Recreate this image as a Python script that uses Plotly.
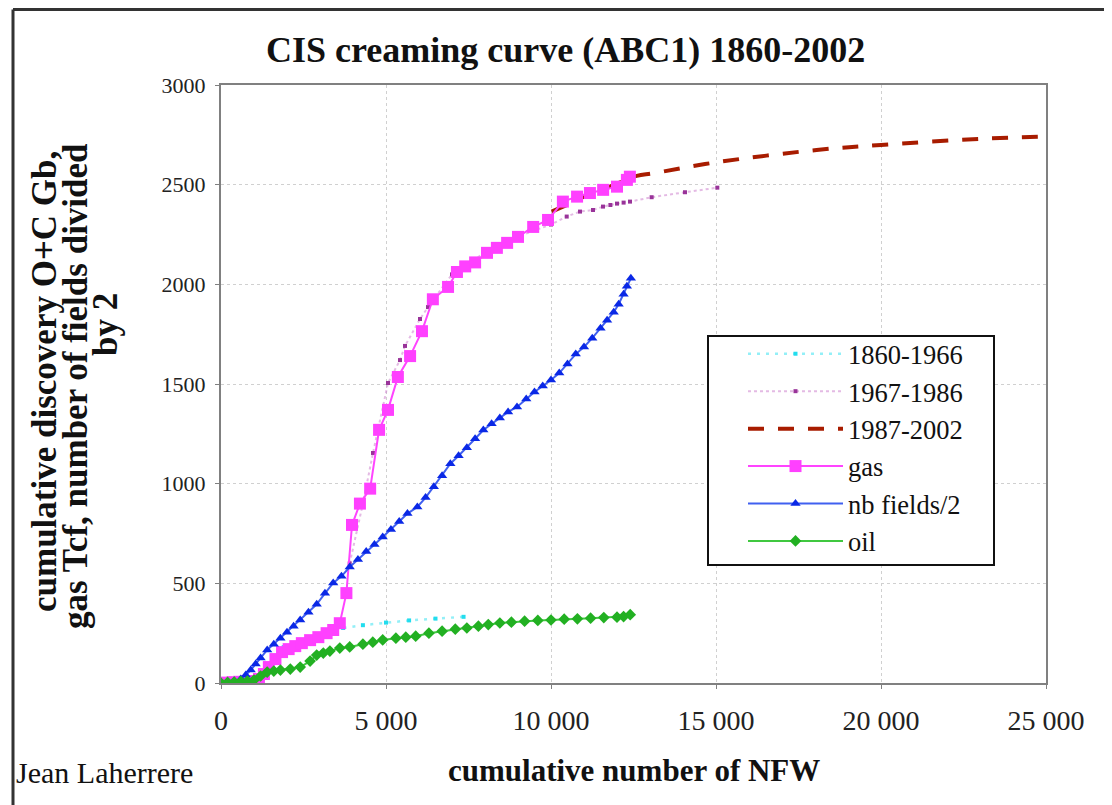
import plotly.graph_objects as go

# ---------------- data ----------------
cyan_x = [1900, 2400, 2900, 3300, 3700, 4300, 5000, 5700, 6500, 7350]
cyan_y = [180, 215, 245, 262, 276, 290, 303, 314, 323, 332]

purple_x = [3900, 4300, 4606, 5061, 5424, 5576, 6030, 6273, 7000, 8000, 9000, 10000,
            10476, 10879, 11273, 11576, 11800, 12000, 12200, 12394, 13050, 14060, 15040]
purple_y = [600, 900, 1154, 1505, 1620, 1691, 1826, 1886, 2050, 2160, 2240, 2300,
            2340, 2365, 2373, 2390, 2398, 2405, 2410, 2415, 2437, 2462, 2485]

red_x = [10020, 10500, 11000, 11500, 12000, 12600, 13090, 15000, 18050, 20000, 23000, 25000]
red_y = [2365, 2400, 2440, 2470, 2505, 2544, 2557, 2612, 2674, 2699, 2730, 2741]

gas_x = [0, 150, 350, 550, 750, 950, 1150, 1300, 1450, 1650, 1850, 2050, 2250, 2450, 2700,
         2950, 3200, 3400, 3600, 3800, 3970, 4210, 4520, 4790, 5060, 5360, 5730, 6090, 6420,
         6880, 7150, 7400, 7700, 8060, 8360, 8670, 9000, 9460, 9910, 10360, 10790, 11180,
         11580, 12000, 12300, 12390]
gas_y = [0, 2, 4, 6, 8, 10, 20, 45, 80, 120, 155, 170, 185, 200, 215,
         230, 250, 266, 300, 451, 793, 900, 975, 1270, 1370, 1535, 1640, 1765, 1925,
         1987, 2062, 2090, 2110, 2158, 2183, 2208, 2238, 2288, 2323, 2415, 2440, 2458,
         2474, 2490, 2524, 2540]

fields_x = [0, 200, 400, 600, 750, 900, 1050, 1200, 1400, 1600, 1800, 2000, 2200, 2400, 2650,
            2900, 3150, 3400, 3650, 3900, 4150, 4400, 4650, 4900, 5150, 5400, 5650, 5950, 6200,
            6450, 6700, 6950, 7200, 7450, 7700, 7950, 8200, 8450, 8700, 8970, 9250, 9500, 9750,
            10000, 10250, 10500, 10750, 11000, 11250, 11500, 11700, 11900, 12050, 12200, 12300, 12420]
fields_y = [0, 5, 10, 20, 40, 65, 95, 125, 166, 195, 225, 255, 285, 316, 355,
            395, 450, 502, 535, 582, 620, 660, 695, 733, 770, 810, 850, 883, 930,
            985, 1040, 1100, 1140, 1180, 1225, 1269, 1300, 1330, 1360, 1385, 1425, 1460, 1490,
            1520, 1555, 1600, 1650, 1686, 1730, 1780, 1820, 1860, 1900, 1950, 1990, 2030]

oil_x = [0, 200, 400, 600, 800, 1000, 1200, 1400, 1600, 1800, 2100, 2400, 2700, 2900, 3100,
         3300, 3600, 3900, 4300, 4600, 4900, 5300, 5600, 5900, 6300, 6700, 7100, 7450, 7800,
         8100, 8450, 8800, 9200, 9600, 10000, 10400, 10800, 11200, 11600, 12000, 12200, 12400]
oil_y = [0, 3, 5, 8, 10, 15, 35, 55, 60, 65, 70, 80, 110, 140, 150,
         160, 175, 181, 195, 205, 216, 225, 230, 235, 250, 260, 270, 276, 285,
         293, 301, 305, 310, 314, 316, 320, 322, 325, 328, 330, 333, 343]

title_text = "CIS creaming curve (ABC1) 1860-2002"
ytitle_lines = ["cumulative discovery O+C Gb,", "gas Tcf, number of fields divided", "by 2"]
xtitle_text = "cumulative number of NFW"
author_text = "Jean Laherrere"
x_ticks = [0, 5000, 10000, 15000, 20000, 25000]
y_ticks = [0, 500, 1000, 1500, 2000, 2500, 3000]

SERIF = "Liberation Serif"

# page -> paper helpers (plot area: x 221..1046, y 85..683 in page pixels)
def px(xp):
    return (xp - 221) / 825


def py(yp):
    return (683 - yp) / 598


fig = go.Figure()

fig.add_trace(go.Scatter(
    x=cyan_x, y=cyan_y, name="1860-1966", mode="lines+markers",
    line=dict(color="rgba(120,235,245,0.8)", width=2.5, dash="3px,6px"),
    marker=dict(symbol="square", size=4, color="#22DDEE"), legendgroup="a"))
fig.add_trace(go.Scatter(
    x=purple_x, y=purple_y, name="1967-1986", mode="lines+markers",
    line=dict(color="rgba(210,140,210,0.6)", width=2, dash="dot"),
    marker=dict(symbol="square", size=4, color="#993399"), legendgroup="b"))
fig.add_trace(go.Scatter(
    x=red_x, y=red_y, name="1987-2002", mode="lines", line_shape="spline",
    line=dict(color="#A81C00", width=4, dash="16px,14px"), legendgroup="c"))
fig.add_trace(go.Scatter(
    x=gas_x, y=gas_y, name="gas", mode="lines+markers",
    line=dict(color="#FF44FF", width=2),
    marker=dict(symbol="square", size=12, color="#FF40FF"), legendgroup="d"))
fig.add_trace(go.Scatter(
    x=fields_x, y=fields_y, name="nb fields/2", mode="lines+markers",
    line=dict(color="#4060F0", width=2),
    marker=dict(symbol="triangle-up", size=9, color="#0A28E6"), legendgroup="e"))
fig.add_trace(go.Scatter(
    x=oil_x, y=oil_y, name="oil", mode="lines+markers",
    line=dict(color="#40C840", width=2),
    marker=dict(symbol="diamond", size=9, color="#22B022"), legendgroup="f"))

axis_common = dict(
    showgrid=True, gridcolor="#D0D0D0", griddash="dot", gridwidth=1,
    showline=True, linecolor="#808080", linewidth=2, mirror=True,
    ticks="outside", ticklen=4, tickcolor="#808080",
    zeroline=False,
)

fig.update_xaxes(range=[0, 25000], tickvals=x_ticks, tickformat=",d",
                 tickfont=dict(family=SERIF, size=28, color="#222222"),
                 ticklabelstandoff=7, **axis_common)
fig.update_yaxes(range=[0, 3000], tickvals=y_ticks, tickformat="d",
                 tickfont=dict(family=SERIF, size=22, color="#222222"),
                 ticklabelstandoff=5, **axis_common)

annotations = [
    dict(text="<b>" + title_text + "</b>", xref="paper", yref="paper",
         x=px(565), y=py(50), xanchor="center", yanchor="middle",
         showarrow=False, font=dict(family=SERIF, size=36, color="#111111")),
    dict(text="<b>" + xtitle_text + "</b>", xref="paper", yref="paper",
         x=px(634), y=py(770), xanchor="center", yanchor="middle",
         showarrow=False, font=dict(family=SERIF, size=31, color="#111111")),
    dict(text=author_text, xref="paper", yref="paper",
         x=px(14), y=py(772), xanchor="left", yanchor="middle",
         showarrow=False, font=dict(family=SERIF, size=30, color="#111111")),
]
ytitle_pos = [(44, 382), (75, 386), (105, 325)]
for line, (lx, ly) in zip(ytitle_lines, ytitle_pos):
    annotations.append(dict(
        text="<b>" + line + "</b>", xref="paper", yref="paper",
        x=px(lx), y=py(ly), xanchor="center", yanchor="middle",
        textangle=-90, showarrow=False,
        font=dict(family=SERIF, size=35, color="#111111")))

fig.update_layout(
    width=1104, height=797,
    margin=dict(l=213, r=66, t=77, b=122),
    paper_bgcolor="white", plot_bgcolor="white",
    separators=". ",
    font=dict(family=SERIF, color="#111111"),
    showlegend=True,
    legend=dict(
        x=px(743), y=py(330), xanchor="left", yanchor="top",
        borderwidth=0, bgcolor="rgba(0,0,0,0)",
        font=dict(family=SERIF, size=26.5, color="#111111"),
        tracegroupgap=0, itemwidth=95,
    ),
    annotations=annotations,
    shapes=[
        # legend box (opaque, framed)
        dict(type="rect", xref="paper", yref="paper",
             x0=px(708), x1=px(994), y0=py(565), y1=py(336),
             fillcolor="white", line=dict(color="#111111", width=2), layer="above"),
        # outer frame (top and left edges visible)
        dict(type="line", xref="paper", yref="paper",
             x0=px(13), x1=px(1130), y0=py(9.5), y1=py(9.5),
             line=dict(color="#333333", width=3)),
        dict(type="line", xref="paper", yref="paper",
             x0=px(13), x1=px(13), y0=py(9.5), y1=py(830),
             line=dict(color="#333333", width=3)),
    ],
)

fig.write_html("out.html")
